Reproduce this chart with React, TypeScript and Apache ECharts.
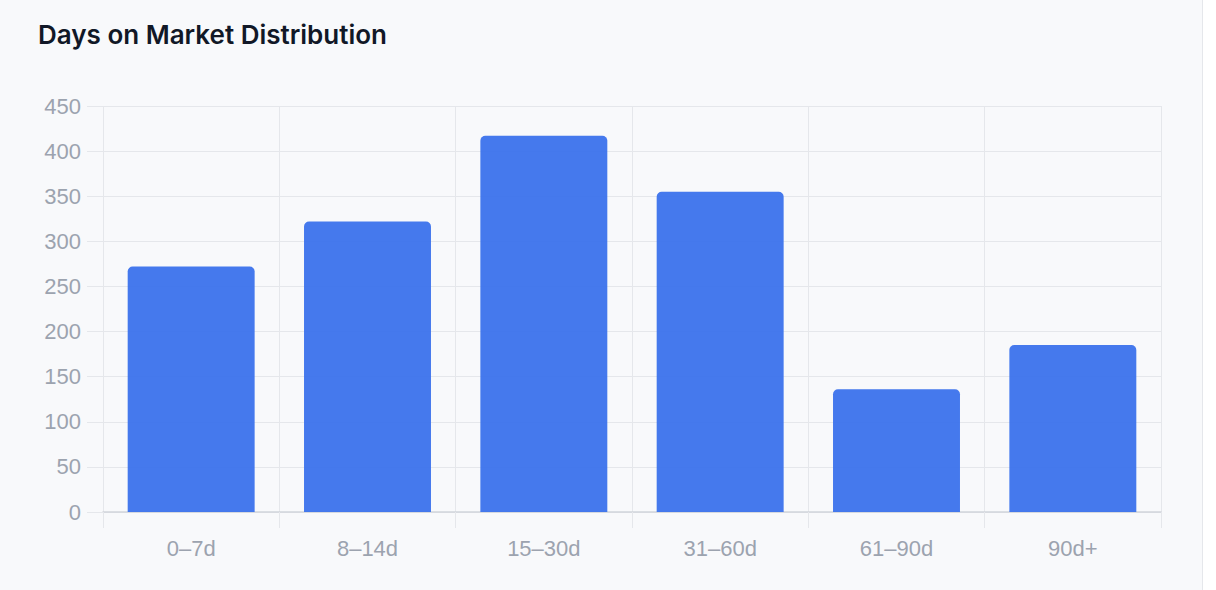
import * as echarts from 'echarts';
import { useEffect, useRef } from 'react';

const categories = ['0–7d', '8–14d', '15–30d', '31–60d', '61–90d', '90d+'];
const listings = [272, 322, 417, 355, 136, 185];
const yTicks = { min: 0, max: 450, interval: 50 };

export default function App() {
  const chartRef = useRef<HTMLDivElement>(null);

  useEffect(() => {
    if (!chartRef.current) return;
    const chart = echarts.init(chartRef.current, undefined, { renderer: 'svg' });
    chart.setOption({
      animation: false,
      title: {
        text: 'Days on Market Distribution',
        left: 33,
        top: 16,
        textStyle: {
          color: '#111827',
          fontSize: 26,
          fontWeight: 600,
          fontFamily: 'Inter',
        },
      },
      grid: { left: 103, right: 55, top: 106, bottom: 78 },
      xAxis: {
        type: 'category',
        data: categories,
        axisLine: { lineStyle: { color: '#d1d5db', width: 1.5 } },
        axisTick: { show: true, length: 16, lineStyle: { color: '#e5e7eb' } },
        splitLine: { show: true, lineStyle: { color: '#e5e7eb' } },
        axisLabel: {
          color: '#9ca3af',
          fontSize: 22,
          fontFamily: 'Liberation Sans',
          margin: 25,
        },
      },
      yAxis: {
        type: 'value',
        min: yTicks.min,
        max: yTicks.max,
        interval: yTicks.interval,
        axisLine: { show: false },
        axisTick: { show: true, length: 16, lineStyle: { color: '#e5e7eb' } },
        splitLine: { lineStyle: { color: '#e5e7eb' } },
        axisLabel: {
          color: '#9ca3af',
          fontSize: 22,
          fontFamily: 'Liberation Sans',
          margin: 22,
        },
      },
      series: [
        {
          type: 'bar',
          data: listings,
          barCategoryGap: '28%',
          itemStyle: {
            color: '#3b72ec',
            opacity: 0.95,
            borderRadius: [5, 5, 0, 0],
          },
        },
      ],
    });
    return () => chart.dispose();
  }, []);

  return (
    <div style={{ position: 'absolute', left: 0, top: 0, width: 1216, height: 590, background: '#fff' }}>
      <div
        style={{
          position: 'absolute',
          left: 0,
          top: 0,
          width: 1202,
          height: 590,
          background: '#f8f9fb',
          borderRight: '1px solid #e5e7eb',
        }}
      />
      <div ref={chartRef} style={{ position: 'absolute', left: 0, top: 0, width: 1216, height: 590 }} />
    </div>
  );
}
